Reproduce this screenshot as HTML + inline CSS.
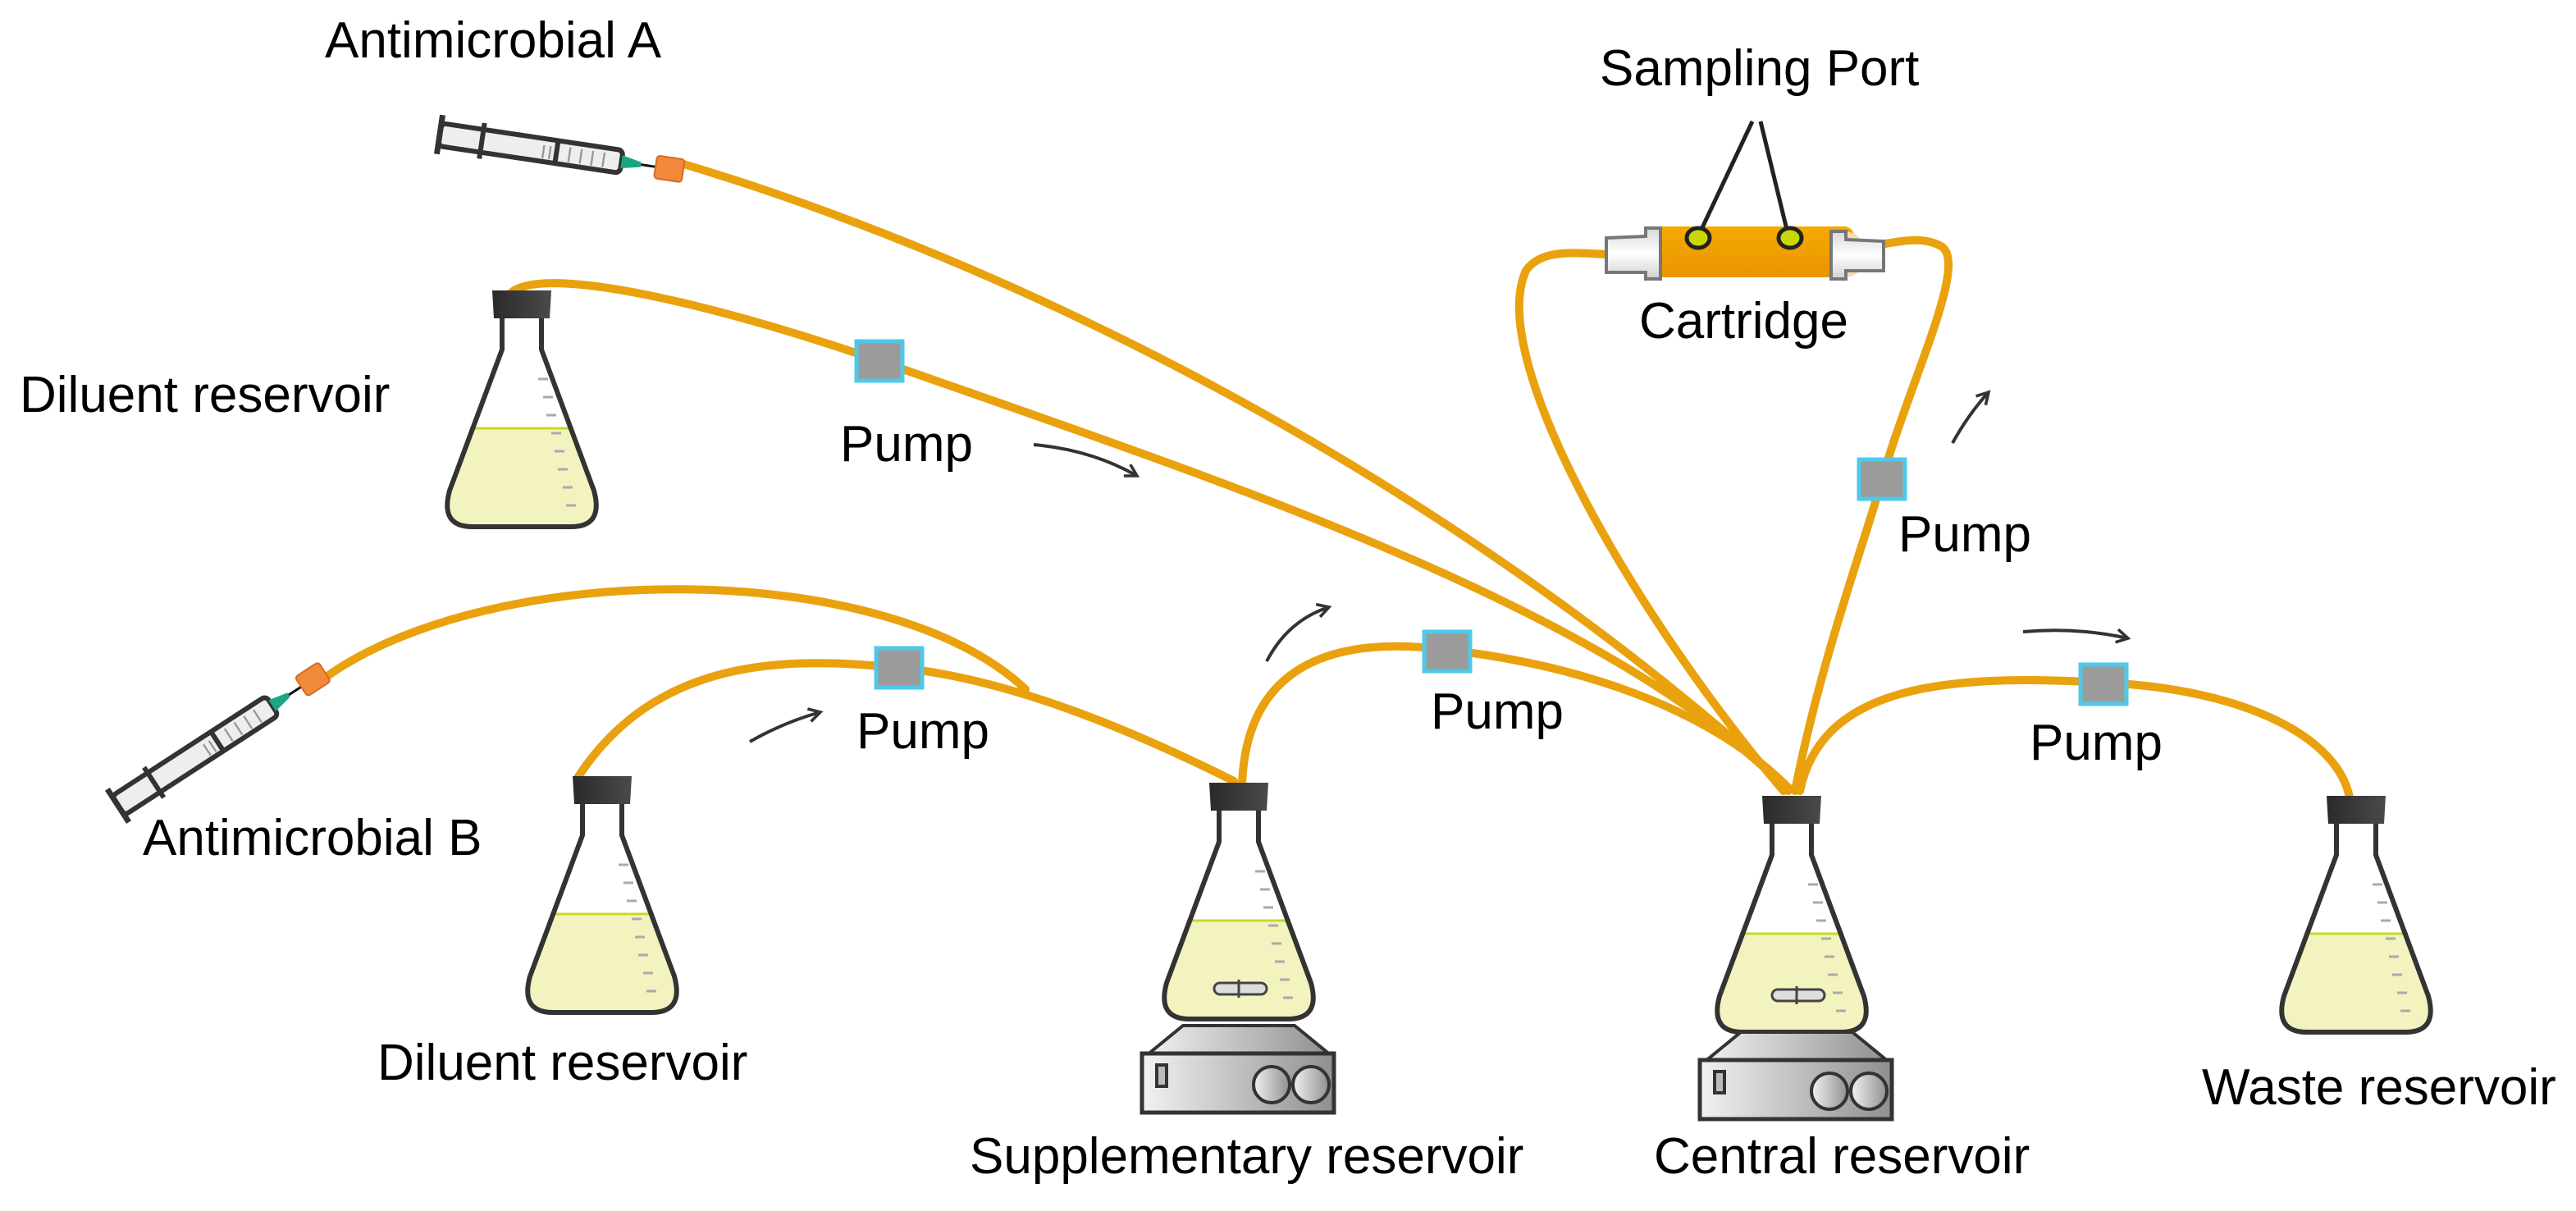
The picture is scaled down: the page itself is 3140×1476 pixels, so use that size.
<!DOCTYPE html>
<html><head><meta charset="utf-8"><style>
html,body{margin:0;padding:0;background:#fff;}
svg{display:block;}
text{font-family:"Liberation Sans",Arial,sans-serif;font-size:31px;fill:#000;}
</style></head><body>
<svg width="3140" height="1476" viewBox="0 0 1570 738" xmlns="http://www.w3.org/2000/svg">
<defs>
<linearGradient id="cap" x1="0" x2="1"><stop offset="0" stop-color="#2a2a2a"/><stop offset="1" stop-color="#4a4a4a"/></linearGradient>
<linearGradient id="metal" x1="0" x2="1"><stop offset="0" stop-color="#f2f2f2"/><stop offset="1" stop-color="#8f8f8f"/></linearGradient>
<linearGradient id="cart" x1="0" y1="0" x2="0" y2="1"><stop offset="0" stop-color="#f7a800"/><stop offset="1" stop-color="#e99600"/></linearGradient>
<linearGradient id="wcap" x1="0" y1="0" x2="0" y2="1"><stop offset="0" stop-color="#d8d8d8"/><stop offset=".5" stop-color="#fff"/><stop offset="1" stop-color="#d0d0d0"/></linearGradient>
<g id="flask">
<path d="M-12 16 L-12 36 L-44 122 Q-50 144 -30 144 L30 144 Q50 144 44 122 L12 36 L12 16 Z" fill="#fff"/>
<path d="M-31.5 84 L31.5 84 L44 122 Q50 144 30 144 L-30 144 Q-50 144 -44 122 Z" fill="#f3f3c0"/>
<line x1="-31.5" y1="84" x2="31.5" y2="84" stroke="#c8d820" stroke-width="1.5"/>
<path d="M-12 16 L-12 36 L-44 122 Q-50 144 -30 144 L30 144 Q50 144 44 122 L12 36 L12 16" fill="none" stroke="#333" stroke-width="3" stroke-linejoin="round"/>
<g stroke="#aaa" stroke-width="1.5"><line x1="10" y1="54" x2="16" y2="54"/><line x1="13" y1="65" x2="19" y2="65"/><line x1="15" y1="76" x2="21" y2="76"/><line x1="18" y1="87" x2="24" y2="87"/><line x1="20" y1="98" x2="26" y2="98"/><line x1="22" y1="109" x2="28" y2="109"/><line x1="25" y1="120" x2="31" y2="120"/><line x1="27" y1="131" x2="33" y2="131"/></g>
<path d="M-18 0 L18 0 L17 17 L-17 17 Z" fill="url(#cap)"/>
</g>
<g id="stir">
<path d="M-34 148 L34 148 L56 166 L-56 166 Z" fill="url(#metal)" stroke="#333" stroke-width="2"/>
<rect x="-59" y="165" width="117" height="36" fill="url(#metal)" stroke="#333" stroke-width="2.5"/>
<rect x="-50" y="172" width="6" height="13" fill="#bbb" stroke="#333" stroke-width="2"/>
<circle cx="20" cy="184" r="11" fill="url(#metal)" stroke="#333" stroke-width="2"/>
<circle cx="44" cy="184" r="11" fill="url(#metal)" stroke="#333" stroke-width="2"/>
<rect x="-15" y="122" width="32" height="7" rx="3.5" fill="#ddd" stroke="#444" stroke-width="1.5"/>
<line x1="0" y1="120" x2="0" y2="131" stroke="#444" stroke-width="1.5"/>
</g>
<g id="syr">
<rect x="0" y="-7" width="112" height="14" rx="3" fill="#eee" stroke="#333" stroke-width="3"/>
<line x1="0" y1="-12" x2="0" y2="12" stroke="#333" stroke-width="3.5"/>
<line x1="26" y1="-11" x2="26" y2="11" stroke="#333" stroke-width="3"/>
<line x1="72" y1="-7" x2="72" y2="7" stroke="#333" stroke-width="3"/>
<g stroke="#999" stroke-width="1.2"><line x1="64" y1="-3" x2="64" y2="5"/><line x1="68" y1="-3" x2="68" y2="5"/><line x1="80" y1="-4" x2="80" y2="5"/><line x1="87" y1="-4" x2="87" y2="5"/><line x1="94" y1="-4" x2="94" y2="5"/><line x1="101" y1="-4" x2="101" y2="5"/></g>
<path d="M112 -4 L124 -1.5 L124 1.5 L112 4 Z" fill="#1aa585"/>
<line x1="124" y1="0" x2="133" y2="0" stroke="#111" stroke-width="1.5"/>
<rect x="133" y="-7" width="17" height="14" rx="2" fill="#f08a3a" stroke="#d86a20" stroke-width="1"/>
</g>
<g id="pump"><rect x="-14" y="-12" width="28" height="24" fill="#9b9b9b" stroke="#4ec9ea" stroke-width="2.5"/></g>
<marker id="ah" markerWidth="10" markerHeight="10" refX="8" refY="5" orient="auto" markerUnits="userSpaceOnUse"><path d="M1 1 L8 5 L1 9" fill="none" stroke="#333" stroke-width="1.8"/></marker>
</defs>

<g fill="none" stroke="#e9a20e" stroke-width="5" stroke-linecap="round">
<path d="M410 98 C 620 160, 880 290, 1090 480"/>
<path d="M312 178 C 335 160, 450 190, 536 220 C 750 295, 980 370, 1090 482"/>
<path d="M198 413 C 300 340, 540 340, 625 420"/>
<path d="M352 474 C 400 400, 480 400, 548 407 C 620 414, 700 450, 752 476"/>
<path d="M757 478 C 760 400, 820 388, 882 396 C 960 405, 1040 430, 1090 480"/>
<path d="M1087 482 C 1000 380, 905 220, 930 165 C 940 150, 965 155, 982 155"/>
<path d="M1094 482 C 1110 400, 1140 320, 1147 292 C 1165 230, 1200 160, 1183 150 C 1170 143, 1155 148, 1140 150"/>
<path d="M1097 482 C 1110 420, 1180 410, 1282 416 C 1370 420, 1425 450, 1432 486"/>
</g>

<rect x="1008" y="138" width="122" height="31" rx="6" fill="url(#cart)"/>
<path d="M1123 141 Q1136 141 1136 155 Q1136 169 1123 169 Z" fill="#f6dcb0"/>
<path d="M979 145 L1003 144 L1003 139 L1012 139 L1012 170 L1003 170 L1003 166 L979 166 Z" fill="url(#wcap)" stroke="#777" stroke-width="2"/>
<path d="M1148 147 L1125 146 L1125 141 L1116 141 L1116 170 L1125 170 L1125 165 L1148 165 Z" fill="url(#wcap)" stroke="#777" stroke-width="2"/>
<g stroke="#222" stroke-width="2.5"><line x1="1035" y1="144" x2="1068" y2="74"/><line x1="1090" y1="144" x2="1073" y2="74"/></g>
<ellipse cx="1035" cy="145" rx="7" ry="6" fill="#cbd800" stroke="#222" stroke-width="2.5"/>
<ellipse cx="1091" cy="145" rx="7" ry="6" fill="#cbd800" stroke="#222" stroke-width="2.5"/>

<use href="#syr" transform="translate(268,82) rotate(8.5)"/>
<use href="#syr" transform="translate(72,491) rotate(-33)"/>

<use href="#flask" transform="translate(318,177)"/>
<use href="#flask" transform="translate(367,473)"/>
<use href="#flask" transform="translate(755,477)"/>
<use href="#stir" transform="translate(755,477)"/>
<use href="#flask" transform="translate(1092,485)"/>
<use href="#stir" transform="translate(1095,481)"/>
<use href="#flask" transform="translate(1436,485)"/>

<use href="#pump" transform="translate(536,220)"/>
<use href="#pump" transform="translate(548,407)"/>
<use href="#pump" transform="translate(882,397)"/>
<use href="#pump" transform="translate(1147,292)"/>
<use href="#pump" transform="translate(1282,417)"/>

<g fill="none" stroke="#333" stroke-width="2" marker-end="url(#ah)">
<path d="M630 271 Q665 274 693 290"/>
<path d="M457 452 Q478 440 500 434"/>
<path d="M772 403 Q785 378 810 370"/>
<path d="M1190 270 Q1200 252 1212 239"/>
<path d="M1233 385 Q1265 382 1297 389"/>
</g>

<text x="198" y="35">Antimicrobial A</text>
<text x="12" y="251">Diluent reservoir</text>
<text x="512" y="281">Pump</text>
<text x="975" y="52">Sampling Port</text>
<text x="999" y="206">Cartridge</text>
<text x="1157" y="336">Pump</text>
<text x="522" y="456">Pump</text>
<text x="872" y="444">Pump</text>
<text x="1237" y="463">Pump</text>
<text x="87" y="521">Antimicrobial B</text>
<text x="230" y="658">Diluent reservoir</text>
<text x="591" y="715">Supplementary reservoir</text>
<text x="1008" y="715">Central reservoir</text>
<text x="1342" y="673">Waste reservoir</text>
</svg>
</body></html>
